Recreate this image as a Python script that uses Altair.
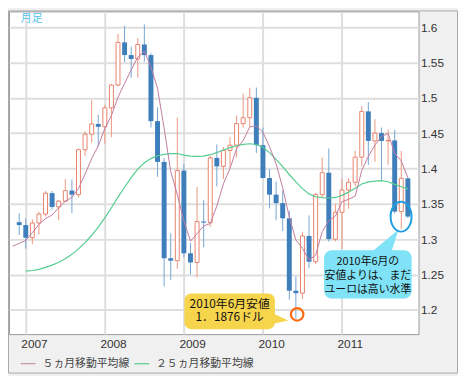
import altair as alt
import pandas as pd

# month index: 0 = Jan 2007 (Dec 2006 = -1)
months = list(range(-1, 59))
opens = [1.3240, 1.3199, 1.3020, 1.3228, 1.3355, 1.3651, 1.3456, 1.3537, 1.3687, 1.3630, 1.4265, 1.4486,
         1.4630, 1.4590, 1.4858, 1.5181, 1.5785, 1.5605, 1.5550, 1.5755, 1.5605, 1.4670, 1.4093, 1.2730,
         1.2695, 1.3970, 1.2800, 1.2670, 1.3250, 1.3235, 1.4150, 1.4030, 1.4255, 1.4330, 1.4635, 1.4718,
         1.5000, 1.4330, 1.3865, 1.3630, 1.3510, 1.3295, 1.2270, 1.2235, 1.3045, 1.2680, 1.3630, 1.3940,
         1.3000, 1.3380, 1.3695, 1.3805, 1.4160, 1.4808, 1.4390, 1.4500, 1.4390, 1.4397, 1.3390, 1.3860]
highs = [1.3367, 1.3296, 1.3281, 1.3386, 1.3682, 1.3681, 1.3554, 1.3852, 1.3843, 1.4282, 1.4526, 1.4967,
         1.4760, 1.4900, 1.5197, 1.5905, 1.6018, 1.5725, 1.5845, 1.6038, 1.5630, 1.4865, 1.4145, 1.3080,
         1.4720, 1.4066, 1.2950, 1.3739, 1.3550, 1.4177, 1.4340, 1.4304, 1.4445, 1.4750, 1.5060, 1.5143,
         1.5145, 1.4580, 1.3990, 1.3815, 1.3693, 1.3403, 1.2471, 1.3105, 1.3335, 1.3650, 1.4157, 1.4283,
         1.3500, 1.3860, 1.3862, 1.4250, 1.4881, 1.4940, 1.4697, 1.4579, 1.4549, 1.4548, 1.4247, 1.3875]
lows = [1.3060, 1.2866, 1.2929, 1.3067, 1.3320, 1.3418, 1.3266, 1.3530, 1.3370, 1.3589, 1.4180, 1.4366,
        1.4309, 1.4350, 1.4443, 1.5162, 1.5507, 1.5285, 1.5285, 1.5514, 1.4580, 1.3881, 1.2330, 1.2423,
        1.2580, 1.2747, 1.2500, 1.2455, 1.2885, 1.3177, 1.3746, 1.3852, 1.4016, 1.4155, 1.4580, 1.4595,
        1.4218, 1.3860, 1.3435, 1.3267, 1.3115, 1.2143, 1.1876, 1.2153, 1.2588, 1.2645, 1.3590, 1.2965,
        1.2968, 1.2860, 1.3430, 1.3749, 1.4030, 1.4051, 1.4096, 1.3837, 1.4051, 1.3360, 1.3145, 1.3300]
closes = [1.3199, 1.3020, 1.3228, 1.3355, 1.3651, 1.3456, 1.3537, 1.3687, 1.3630, 1.4265, 1.4486, 1.4630,
          1.4590, 1.4858, 1.5181, 1.5785, 1.5605, 1.5550, 1.5755, 1.5605, 1.4670, 1.4093, 1.2730, 1.2695,
          1.3970, 1.2800, 1.2670, 1.3250, 1.3235, 1.4150, 1.4030, 1.4255, 1.4330, 1.4635, 1.4718, 1.5000,
          1.4330, 1.3865, 1.3630, 1.3510, 1.3295, 1.2270, 1.2235, 1.3045, 1.2680, 1.3630, 1.3940, 1.3000,
          1.3380, 1.3695, 1.3805, 1.4160, 1.4808, 1.4390, 1.4500, 1.4390, 1.4397, 1.3390, 1.3860, 1.3320]

ma5_months = list(range(-2, 59))
ma5 = [1.2900, 1.2939, 1.2981, 1.3091, 1.3210, 1.3291, 1.3342, 1.3445, 1.3537, 1.3592, 1.3715, 1.3921,
       1.4140, 1.4320, 1.4566, 1.4749, 1.5009, 1.5204, 1.5396, 1.5575, 1.5660, 1.5437, 1.5135, 1.4571,
       1.3959, 1.3632, 1.3258, 1.2973, 1.3077, 1.3185, 1.3221, 1.3467, 1.3784, 1.4000, 1.4280, 1.4394,
       1.4588, 1.4603, 1.4510, 1.4309, 1.4067, 1.3726, 1.3314, 1.2988, 1.2871, 1.2705, 1.2772, 1.3106,
       1.3259, 1.3326, 1.3529, 1.3564, 1.3608, 1.3970, 1.4172, 1.4333, 1.4450, 1.4497, 1.4213, 1.4107,
       1.3870]

ma25_months = list(range(0, 59))
ma25 = [1.2548, 1.2556, 1.2572, 1.2600, 1.2632, 1.2672, 1.2722, 1.2785, 1.2862, 1.2950, 1.3055, 1.3170,
        1.3300, 1.3445, 1.3595, 1.3735, 1.3870, 1.3990, 1.4080, 1.4140, 1.4180, 1.4200, 1.4210, 1.4212,
        1.4190, 1.4175, 1.4172, 1.4175, 1.4195, 1.4225, 1.4262, 1.4295, 1.4322, 1.4340, 1.4350, 1.4340,
        1.4300, 1.4225, 1.4130, 1.4025, 1.3915, 1.3810, 1.3715, 1.3640, 1.3600, 1.3588, 1.3582, 1.3590,
        1.3620, 1.3665, 1.3720, 1.3780, 1.3810, 1.3822, 1.3828, 1.3812, 1.3775, 1.3742, 1.3712]

year_ticks = [0, 12, 24, 36, 48]
y_ticks = [1.2, 1.25, 1.3, 1.35, 1.4, 1.45, 1.5, 1.55, 1.6]
legend_labels = ["５ヵ月移動平均線", "２５ヵ月移動平均線"]
period_label = "月足"
low_note = ["2010年6月安値", "1．1876ドル"]
now_note = ["2010年6月の", "安値よりは、まだ", "ユーロは高い水準"]

RED = "#e8826c"
RED_WICK = "#ee967f"
BLUE = "#3d7ebb"
BLUE_WICK = "#74a6d4"
PINK = "#c27ba0"
GREEN = "#55cc90"
YELLOW = "#f6d44c"
CYAN = "#7fe2f6"
JP = "Noto Sans CJK JP"

df = pd.DataFrame({"m": months, "open": opens, "high": highs, "low": lows, "close": closes})
df["dir"] = ["up" if c >= o else "down" for o, c in zip(opens, closes)]
d5 = pd.DataFrame({"m": ma5_months, "v": ma5})
d25 = pd.DataFrame({"m": ma25_months, "v": ma25})
one = pd.DataFrame({"k": [0]})

xs = alt.Scale(domain=[-1.80, 58.87], nice=False, zero=False)
ys = alt.Scale(domain=[1.1656, 1.6223], nice=False, zero=False)

xaxis = alt.Axis(values=year_ticks, labelExpr="'' + (2007 + datum.value / 12)", grid=True,
                 gridColor="#dedede", gridWidth=2, ticks=False, domain=False, labelAlign="left",
                 labelOffset=-5, labelPadding=5, labelFontSize=12, labelFont="Liberation Sans",
                 labelColor="#333333", labelFlush=False, labelOverlap=False, title="")
yaxis = alt.Axis(orient="right", values=y_ticks, format=".2~f", grid=True, gridColor="#dedede",
                 gridWidth=2, ticks=False, domain=False, labelPadding=2, labelFontSize=12,
                 labelFont="Liberation Sans", labelColor="#333333", title="")


def X(field="m"):
    return alt.X(f"{field}:Q", scale=xs, axis=xaxis)


def Y(field):
    return alt.Y(f"{field}:Q", scale=ys, axis=yaxis)


wicks = alt.Chart(df).mark_rule(strokeWidth=1).encode(
    x=X(), y=Y("low"), y2="high:Q",
    color=alt.Color("dir:N", scale=alt.Scale(domain=["up", "down"], range=[RED_WICK, BLUE_WICK]), legend=None))
up = alt.Chart(df).transform_filter("datum.dir == 'up'").mark_bar(
    size=4, fill="white", stroke=RED, strokeWidth=1).encode(
    x=X(), y=Y("open"), y2="close:Q")
down = alt.Chart(df).transform_filter("datum.dir == 'down'").mark_bar(
    size=5, color=BLUE).encode(
    x=X(), y=Y("open"), y2="close:Q")

line25 = alt.Chart(d25).mark_line(color=GREEN, strokeWidth=1.2, clip=True).encode(x=X(), y=Y("v"))
line5 = alt.Chart(d5).mark_line(color=PINK, strokeWidth=1, clip=True).encode(x=X(), y=Y("v"))

# annotations anchored in data coordinates
ybox = pd.DataFrame({"m": [24.08], "m2": [37.82], "v": [1.2229], "v2": [1.1726]})
yellow_box = alt.Chart(ybox).mark_rect(color=YELLOW, cornerRadius=7).encode(
    x=X(), x2="m2:Q", y=Y("v"), y2="v2:Q")
yptr = pd.DataFrame({"m": [38.84], "v": [1.1880]})
yellow_ptr = alt.Chart(yptr).mark_point(
    shape="M -1.2 -0.66 L 0.84 0.29 L -1.2 0.71 Z", size=256, filled=True, color=YELLOW, opacity=1).encode(
    x=X(), y=Y("v"))
ytxt = pd.DataFrame({"m": [30.95], "v": [1.2075]})
yellow_text = alt.Chart(ytxt).mark_text(text=low_note, font=JP, fontSize=12, lineHeight=12.5,
                                        color="#111111", baseline="middle").encode(x=X(), y=Y("v"))
ocirc = pd.DataFrame({"m": [41.2], "v": [1.1935]})
orange_circle = alt.Chart(ocirc).mark_point(shape="circle", size=160, filled=False, stroke="#ff6a10",
                                            strokeWidth=2.2, opacity=1).encode(x=X(), y=Y("v"))

cbox = pd.DataFrame({"m": [45.28], "m2": [58.58], "v": [1.2844], "v2": [1.2159]})
cyan_box = alt.Chart(cbox).mark_rect(color=CYAN, cornerRadius=8).encode(
    x=X(), x2="m2:Q", y=Y("v"), y2="v2:Q")
cptr = pd.DataFrame({"m": [54.34], "v": [1.2983]})
cyan_ptr = alt.Chart(cptr).mark_point(
    shape="M -1.07 1.0 L 0.5 1.0 L 1.07 -0.79 Z", size=784, filled=True, color=CYAN, opacity=1).encode(
    x=X(), y=Y("v"))
ctxt = pd.DataFrame({"m": [51.93], "v": [1.2676]})
cyan_text = alt.Chart(ctxt).mark_text(text=now_note, font=JP, fontSize=11, lineHeight=14,
                                      color="#111111", baseline="middle").encode(x=X(), y=Y("v"))
bell = pd.DataFrame({"m": [56.97], "v": [1.3318]})
blue_ellipse = alt.Chart(bell).mark_point(
    shape="M -0.7 0 A 0.7 1 0 1 0 0.7 0 A 0.7 1 0 1 0 -0.7 0 Z", size=918, filled=False,
    stroke="#1e9ee0", strokeWidth=2, opacity=1).encode(x=X(), y=Y("v"))

# frame, period label and legend (pixel placement)
frame = alt.Chart(one).mark_rect(fill="transparent", stroke="#a8a8a8", strokeWidth=1).encode(
    x=alt.value(-0.5), x2=alt.value(454.5), y=alt.value(-0.5), y2=alt.value(366.5))
period = alt.Chart(one).mark_text(text=period_label, font=JP, fontSize=11, color="#4fc2ee",
                                  align="left", baseline="middle").encode(
    x=alt.value(12), y=alt.value(8))
leg5_line = alt.Chart(one).mark_rule(color=PINK, strokeWidth=1).encode(
    x=alt.value(12), x2=alt.value(27), y=alt.value(357))
leg5_text = alt.Chart(one).mark_text(text=legend_labels[0], font=JP, fontSize=11, color="#444444",
                                     align="left", baseline="middle").encode(
    x=alt.value(34), y=alt.value(357))
leg25_line = alt.Chart(one).mark_rule(color=GREEN, strokeWidth=1.2).encode(
    x=alt.value(127), x2=alt.value(142), y=alt.value(357))
leg25_text = alt.Chart(one).mark_text(text=legend_labels[1], font=JP, fontSize=11, color="#444444",
                                      align="left", baseline="middle").encode(
    x=alt.value(149), y=alt.value(357))

chart = alt.layer(
    wicks, up, down, line25, line5,
    yellow_box, yellow_ptr, yellow_text, orange_circle,
    cyan_box, cyan_ptr, cyan_text, blue_ellipse,
    frame, period, leg5_line, leg5_text, leg25_line, leg25_text
).properties(
    width=415, height=327,
    padding={"left": 1, "top": 1, "right": 40, "bottom": 40},
    autosize=alt.AutoSizeParams(type="none"),
    background="#f0f0f0"
).configure_view(fill="white", stroke="#999999", strokeWidth=1)

chart.save("out.html", embed_options={"renderer": "svg", "actions": False})
